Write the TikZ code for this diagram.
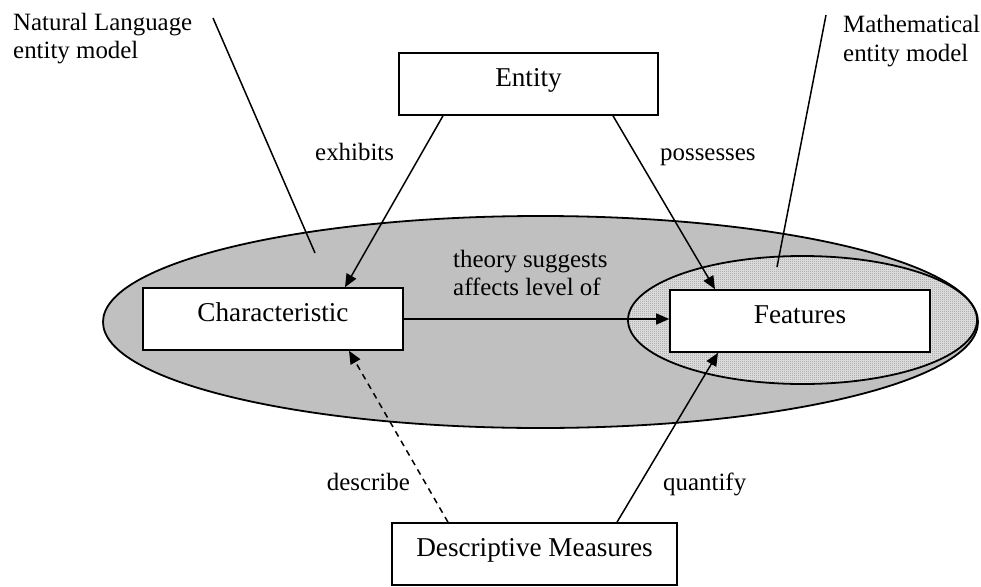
\documentclass[tikz,border=0pt]{standalone}
\usepackage{fontspec}
\setmainfont{Liberation Serif}
\usetikzlibrary{arrows.meta,patterns}

% fine two-tone checker used for the inner ellipse
\pgfdeclarepatternformonly{finechecker}{\pgfqpoint{0pt}{0pt}}{\pgfqpoint{2pt}{2pt}}{\pgfqpoint{2pt}{2pt}}{%
  \pgfpathrectangle{\pgfqpoint{0pt}{0pt}}{\pgfqpoint{1pt}{1pt}}%
  \pgfpathrectangle{\pgfqpoint{1pt}{1pt}}{\pgfqpoint{1pt}{1pt}}%
  \pgfusepath{fill}}

\definecolor{outerfill}{RGB}{192,192,192}
\definecolor{checklight}{RGB}{228,228,228}
\definecolor{checkdark}{RGB}{150,150,150}

\tikzset{
  box/.style={draw, line width=1.6pt, fill=white, minimum height=62pt,
    inner sep=0pt, text height=0.7em, text depth=0.25em,
    font=\fontsize{27.2}{31}\selectfont},
  lbl/.style={inner sep=0pt, font=\fontsize{24.9}{28.5}\selectfont},
  arr/.style={line width=1.5pt, -{Triangle[length=13pt,width=11pt]}},
  leader/.style={line width=1.5pt},
  region/.style={line width=1.8pt}
}

\begin{document}
\begin{tikzpicture}[x=1pt,y=-1pt]
\useasboundingbox (0,0) rectangle (981,586);

% the two model regions
\draw[region, fill=outerfill] (540.5,322) ellipse [x radius=437.5, y radius=106];
\fill[checklight] (802.5,320) ellipse [x radius=174.5, y radius=64];
\fill[pattern=finechecker, pattern color=checkdark] (802.5,320) ellipse [x radius=174.5, y radius=64];
\draw[region] (802.5,320) ellipse [x radius=174.5, y radius=64];

% concept boxes
\node[box, minimum width=259pt] (ent)  at (528.5,84)  {Entity};
\node[box, minimum width=260pt] (chr)  at (273,319)   {Characteristic};
\node[box, minimum width=260pt] (feat) at (800,321)   {Features};
\node[box, minimum width=285pt] (dm)   at (534.5,554) {Descriptive Measures};

% relations
\draw[arr] ([xshift=-85.5pt]ent.south) -- ([xshift=72pt]chr.north);
\draw[arr] ([xshift=84.5pt]ent.south) -- ([xshift=-85pt]feat.north);
\draw[arr] (chr.east) -- (chr.east -| feat.west);
\draw[arr, dash pattern=on 6pt off 5pt] ([xshift=-86.5pt]dm.north) -- ([xshift=76pt]chr.south);
\draw[arr] ([xshift=82.5pt]dm.north) -- ([xshift=-82pt]feat.south);

% relation labels
\node[lbl, anchor=base west] (lex) at (315,160) {exhibits};
\node[lbl, anchor=base west] (lpo) at (660,160) {possesses};
\node[lbl, anchor=base west] (lth1) at (453,267) {theory suggests};
\node[lbl, anchor=base west] (lth2) at (453,295) {affects level of};
\node[lbl, anchor=base east] (lde) at (410,490) {describe};
\node[lbl, anchor=base west] (lqu) at (663,490) {quantify};

% region captions with leader lines
\node[lbl, anchor=base west] (nl1) at (13,31) {Natural Language};
\node[lbl, anchor=base west] (nl2) at (13,59) {entity model};
\node[lbl, anchor=base west] (ma1) at (843,33) {Mathematical};
\node[lbl, anchor=base west] (ma2) at (843,61) {entity model};
\coordinate (nlA) at (213,18);
\coordinate (nlB) at (315,253);
\coordinate (maA) at (826,15);
\coordinate (maB) at (777,267);
\draw[leader] (nlA) -- (nlB);
\draw[leader] (maA) -- (maB);
\end{tikzpicture}
\end{document}
